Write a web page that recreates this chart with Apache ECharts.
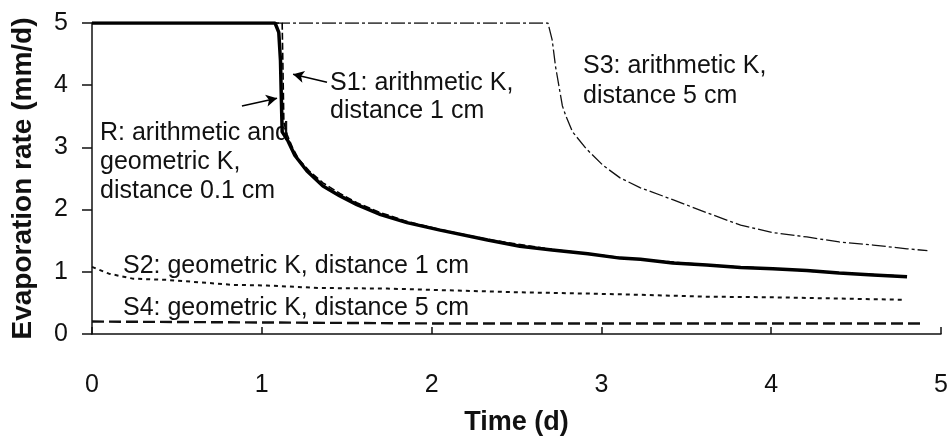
<!DOCTYPE html>
<html>
<head>
<meta charset="utf-8">
<script src="https://cdn.jsdelivr.net/npm/echarts@6/dist/echarts.min.js"></script>
<style>
  html, body { margin: 0; padding: 0; background: #fff; }
  #chart { width: 951px; height: 441px; }
</style>
</head>
<body>
<div id="chart"></div>
<script>
// R: arithmetic and geometric K, distance 0.1 cm
const rTime = [0, 1.078, 1.10, 1.11, 1.115, 1.12, 1.155, 1.195, 1.266, 1.36, 1.46, 1.56, 1.70, 1.855, 2.05, 2.33, 2.52, 2.71, 2.92, 3.11, 3.23, 3.42, 3.62, 3.82, 4.01, 4.21, 4.40, 4.60, 4.80]
const rRate = [5, 5, 4.85, 4.4, 3.8, 3.25, 3.1, 2.87, 2.62, 2.38, 2.22, 2.08, 1.92, 1.79, 1.67, 1.51, 1.41, 1.35, 1.29, 1.22, 1.20, 1.14, 1.11, 1.07, 1.05, 1.02, 0.98, 0.95, 0.92]
// S1: arithmetic K, distance 1 cm
const s1Time = [0, 1.12, 1.125, 1.13, 1.15, 1.18, 1.22, 1.28, 1.36, 1.46, 1.56, 1.70, 1.855, 2.05, 2.33, 2.71, 3.11, 3.62, 4.01, 4.40, 4.80]
const s1Rate = [5, 5, 4.2, 3.4, 3.2, 3.0, 2.8, 2.62, 2.43, 2.26, 2.11, 1.95, 1.81, 1.68, 1.52, 1.36, 1.23, 1.11, 1.05, 0.98, 0.93]
// S2: geometric K, distance 1 cm
const s2Time = [0, 0.10, 0.24, 0.44, 0.64, 0.83, 1.03, 1.34, 1.74, 2.13, 2.52, 2.92, 3.23, 3.62, 4.01, 4.40, 4.78]
const s2Rate = [1.08, 0.97, 0.89, 0.87, 0.83, 0.79, 0.78, 0.74, 0.73, 0.70, 0.67, 0.65, 0.63, 0.60, 0.59, 0.57, 0.55]
// S3: arithmetic K, distance 5 cm
const s3Time = [0, 2.685, 2.71, 2.73, 2.77, 2.79, 2.83, 2.91, 3.01, 3.11, 3.23, 3.42, 3.62, 3.82, 4.01, 4.21, 4.40, 4.60, 4.80, 4.92]
const s3Rate = [5, 5, 4.73, 4.30, 3.67, 3.51, 3.25, 2.98, 2.71, 2.51, 2.35, 2.16, 1.95, 1.75, 1.63, 1.56, 1.48, 1.43, 1.37, 1.34]
// S4: geometric K, distance 5 cm
const s4Time = [0, 0.7, 2.0, 4.9]
const s4Rate = [0.2, 0.19, 0.17, 0.17]

const xTicks = [0, 1, 2, 3, 4, 5]
const yTicks = [0, 1, 2, 3, 4, 5]

// annotation arrows [from, to] in data units
const arrowLines = [
  [[0.883, 3.667], [1.09, 3.79]],
  [[1.384, 4.048], [1.184, 4.175]]
]

const pairs = (xs, ys) => xs.map((x, i) => [x, ys[i]])

const chart = echarts.init(document.getElementById('chart'))
const font = 'Liberation Sans, Arial, sans-serif'
const ink = '#111'

const noteStyle = (text, lh) => ({
  text: text,
  font: '25px ' + font,
  fill: ink,
  lineHeight: lh
})

chart.setOption({
  animation: false,
  grid: { left: 92, top: 23, right: 10, bottom: 103 },
  xAxis: {
    type: 'value',
    min: xTicks[0],
    max: xTicks[xTicks.length - 1],
    interval: 1,
    name: 'Time (d)',
    nameLocation: 'middle',
    nameGap: 75,
    nameTextStyle: { fontFamily: font, fontSize: 27, fontWeight: 'bold', color: ink },
    axisLine: { lineStyle: { color: ink, width: 1.5 } },
    axisTick: { inside: true, length: 7, lineStyle: { color: ink, width: 1.5 } },
    axisLabel: { margin: 39, fontFamily: font, fontSize: 25, color: ink },
    splitLine: { show: false }
  },
  yAxis: {
    type: 'value',
    min: yTicks[0],
    max: yTicks[yTicks.length - 1],
    interval: 1,
    name: 'Evaporation rate (mm/d)',
    nameLocation: 'middle',
    nameGap: 55,
    nameTextStyle: { fontFamily: font, fontSize: 28, fontWeight: 'bold', color: ink },
    axisLine: { show: true, lineStyle: { color: ink, width: 1.5 } },
    axisTick: { show: true, length: 10, lineStyle: { color: ink, width: 1.5 } },
    axisLabel: { margin: 24, fontFamily: font, fontSize: 25, color: ink },
    splitLine: { show: false }
  },
  series: [
    {
      name: 'S3',
      type: 'line',
      data: pairs(s3Time, s3Rate),
      showSymbol: false,
      lineStyle: { color: ink, width: 1.3, type: [14, 3, 3, 3] }
    },
    {
      name: 'S2',
      type: 'line',
      data: pairs(s2Time, s2Rate),
      showSymbol: false,
      lineStyle: { color: ink, width: 2, type: [4, 4] }
    },
    {
      name: 'S4',
      type: 'line',
      data: pairs(s4Time, s4Rate),
      showSymbol: false,
      lineStyle: { color: ink, width: 2.4, type: [12, 5] }
    },
    {
      name: 'R',
      type: 'line',
      data: pairs(rTime, rRate),
      showSymbol: false,
      lineStyle: { color: '#000', width: 3.5 },
      markLine: {
        silent: true,
        symbol: ['none', 'arrow'],
        symbolSize: [9, 11],
        label: { show: false },
        lineStyle: { color: '#000', width: 1.5, type: 'solid' },
        data: arrowLines.map(a => [{ coord: a[0] }, { coord: a[1] }])
      }
    },
    {
      name: 'S1',
      type: 'line',
      data: pairs(s1Time, s1Rate),
      showSymbol: false,
      lineStyle: { color: '#000', width: 1.6, type: [7, 3] }
    }
  ],
  graphic: [
    { type: 'text', left: 100, top: 119, style: noteStyle('R: arithmetic and\ngeometric K,\ndistance 0.1 cm', 29) },
    { type: 'text', left: 330, top: 69, style: noteStyle('S1: arithmetic K,\ndistance 1 cm', 28) },
    { type: 'text', left: 583, top: 51, style: noteStyle('S3: arithmetic K,\ndistance 5 cm', 30) },
    { type: 'text', left: 123, top: 252, style: noteStyle('S2: geometric K, distance 1 cm', 28) },
    { type: 'text', left: 123, top: 294, style: noteStyle('S4: geometric K, distance 5 cm', 28) }
  ]
})

window.addEventListener('resize', () => chart.resize())
</script>
</body>
</html>
